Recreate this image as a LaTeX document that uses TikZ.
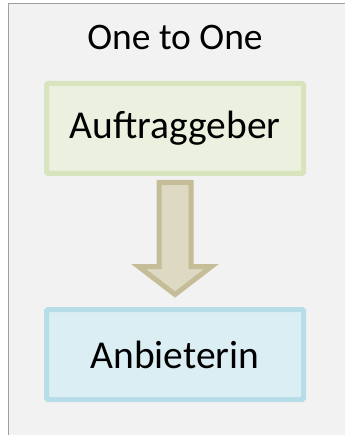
\documentclass[tikz,border=0pt]{standalone}
\usepackage{fontspec}
\setmainfont{Carlito}
\usetikzlibrary{positioning,calc}
\definecolor{panelbg}{HTML}{F2F2F2}
\definecolor{panelline}{HTML}{A0A0A0}
\definecolor{geberfill}{HTML}{EBF1DE}
\definecolor{geberline}{HTML}{D7E4BD}
\definecolor{bieterfill}{HTML}{DBEEF4}
\definecolor{bieterline}{HTML}{B7DEE8}
\definecolor{pfeilfill}{HTML}{DDD9C3}
\definecolor{pfeilline}{HTML}{C4BD97}
\begin{document}
\begin{tikzpicture}[
		x=1pt, y=-1pt,
		party/.style={draw, line width=5pt, rounded corners=1.5pt, outer sep=0pt,
			minimum width=257pt, minimum height=90pt, font=\fontsize{39.5}{44}\selectfont},
		bigarrow/.style={draw=pfeilline, fill=pfeilfill, line width=5pt},
		heading/.style={anchor=base, inner sep=0pt, font=\fontsize{37.5}{44}\selectfont}
		]
		\useasboundingbox (0,0) rectangle (345,435);
		% panel
		\fill[panelbg] (8.5,3.5) rectangle (345,435);
		\draw[panelline, line width=1.2pt] (8.5,435) -- (8.5,3.5) -- (345,3.5);
		% the two parties
		\node[party, draw=geberline, fill=geberfill] at (175,128.5) (geber) {Auftraggeber};
		\node[party, draw=bieterline, fill=bieterfill, below=136pt of geber] (bieterin) {Anbieterin};
		\node[heading] at (175,50) (title) {One to One};
		% block arrow
		\draw[bigarrow] ($(geber.south)+(-16,9)$) -- ($(geber.south)+(-16,93)$)
		-- ($(geber.south)+(-36.5,93)$) -- ($(bieterin.north)+(0,-15)$)
		-- ($(geber.south)+(36.5,93)$) -- ($(geber.south)+(16,93)$)
		-- ($(geber.south)+(16,9)$) -- cycle;
	\end{tikzpicture}
\end{document}
